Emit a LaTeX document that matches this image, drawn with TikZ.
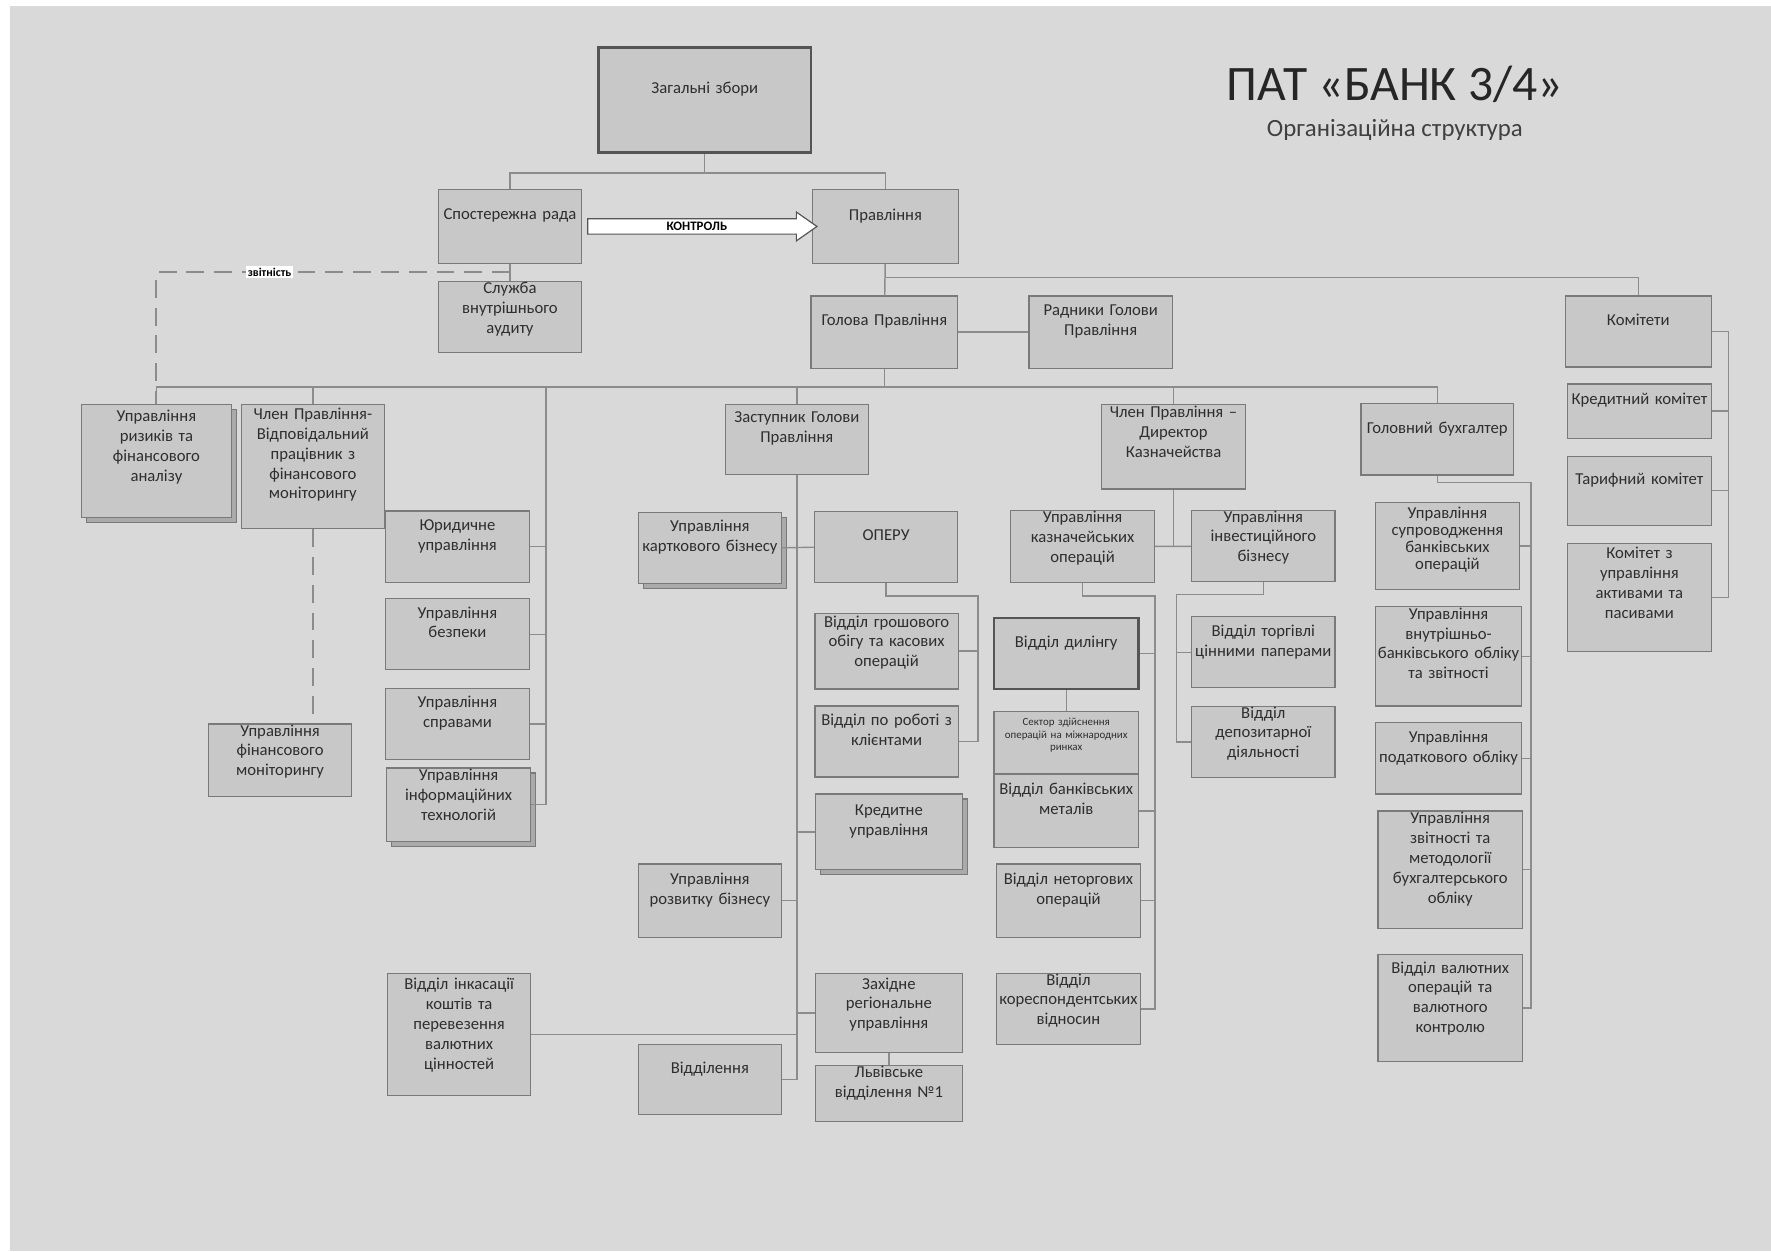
\documentclass[tikz,border=0pt]{standalone}
\usepackage{fontspec}
\setmainfont{Carlito}
\usepackage{tikz}
\usetikzlibrary{shapes, positioning, arrows.meta, calc, shadows}

\definecolor{pagegray}{HTML}{D9D9D9}
\definecolor{boxgray}{HTML}{C8C8C8}
\definecolor{edgegray}{HTML}{7A7A7A}
\definecolor{linegray}{HTML}{8C8C8C}
\definecolor{inkgray}{HTML}{2E2E2E}

\begin{document}
\begin{tikzpicture}[
    x=0.02cm, y=-0.02cm,
    unit/.style={rectangle, draw=edgegray, fill=boxgray, line width=0.6pt,
        minimum width=2.54cm, minimum height=1.26cm, text width=2.5cm,
        inner xsep=0.02cm, inner ysep=0pt, align=center, text=inkgray,
        font=\fontsize{8.4}{10}\selectfont,
        execute at end node={\rule[-#1]{0pt}{0pt}}},
    unit/.default=12pt,
    stack/.style={unit=#1, copy shadow={shadow xshift=2.5pt, shadow yshift=-2.5pt,
        fill=boxgray!85!black, draw=edgegray}},
    stack/.default=12pt,
    strong/.style={line width=1.3pt, draw=edgegray!70!black},
    link/.style={draw=linegray, line width=0.7pt},
    report/.style={link, dash pattern=on 9pt off 5pt, line width=1pt},
    ctrl/.style={single arrow, draw=edgegray!70!black, fill=white, line width=0.6pt,
        minimum height=4.06cm, minimum width=0.5cm, single arrow head extend=0.12cm,
        single arrow tip angle=70, inner sep=1.4pt, text=black,
        font=\fontsize{6.5}{7}\selectfont\bfseries},
    tag/.style={fill=white, inner sep=1pt, text=black, font=\fontsize{6}{7}\selectfont\bfseries}
]
\fill[white] (0,0) rectangle (1568,1108);
\fill[pagegray] (9,5) rectangle (1568,1108);
\useasboundingbox (0,0) rectangle (1568,1108);

\node[text=black!85, font=\fontsize{25}{30}\selectfont] (title) at (1235,75) {ПАТ «БАНК 3/4»};
\node[text=black!75, font=\fontsize{12.5}{14}\selectfont] (subtitle) at (1235,115) {Організаційна структура};

% 1. SHAREHOLDERS, BOARD
\node[unit, strong, minimum width=3.76cm, minimum height=1.86cm] (gz) at (624,88.5) {Загальні збори};
\node[unit, minimum height=1.3cm] (sr) at (451.5,200.5) {Спостережна рада};
\node[unit, minimum width=2.6cm, minimum height=1.3cm, right=4.06cm of sr] (pr) {Правління};
\node[unit=9pt, below=0.3cm of sr] (audit) {Служба\\внутрішнього\\аудиту};

\node[unit, minimum width=2.6cm, minimum height=1.28cm] (head) at (783,294) {Голова Правління};
\node[unit, minimum height=1.28cm, right=1.24cm of head] (adv) {Радники Голови\\Правління};
\node[unit, minimum width=2.58cm] (com) at (1450.5,293.5) {Комітети};
\node[unit, minimum height=0.96cm] (credc) at (1451.5,364) {Кредитний комітет};
\node[unit, minimum height=1.22cm] (tarc) at (1451.5,434.5) {Тарифний комітет};
\node[unit=15pt, minimum height=1.92cm] (alm) at (1451.5,529) {Комітет з\\управління\\активами та\\пасивами};

% 2. LEFT WING
\node[stack=15pt, minimum width=2.66cm, minimum height=2cm] (risk) at (138.5,408) {Управління\\ризиків та\\фінансового\\аналізу};
\node[unit=13pt, minimum height=2.2cm] (fmm) at (277,413) {Член Правління-\\Відповідальний\\працівник з\\фінансового\\моніторингу};
\node[unit] (legal) at (405,484) {Юридичне\\управління};
\node[unit] (sec) at (405,561.5) {Управління\\безпеки};
\node[unit] (admin) at (405,641) {Управління\\справами};
\node[stack=10pt, minimum width=2.56cm, minimum height=1.3cm] (it) at (406,712.5) {Управління\\інформаційних\\технологій};
\node[unit=10pt, minimum height=1.28cm] (fmon) at (248,673) {Управління\\фінансового\\моніторингу};
\node[unit=11pt, minimum height=2.16cm] (cit) at (406.5,916) {Відділ інкасації\\коштів та\\перевезення\\валютних\\цінностей};

% 3. DEPUTY CHAIRMAN
\node[unit, minimum height=1.24cm] (dep) at (705.5,389) {Заступник Голови\\Правління};
\node[stack] (card) at (628.5,485) {Управління\\\makebox[2.5cm]{карткового бізнесу}};
\node[unit] (operu) at (784.5,484.5) {ОПЕРУ};
\node[unit=10pt, minimum height=1.34cm] (cash) at (785,576.5) {Відділ грошового\\обігу та касових\\операцій};
\node[unit] (clients) at (785,656.5) {Відділ по роботі з\\клієнтами};
\node[stack, minimum width=2.6cm, minimum height=1.34cm] (credit) at (787,736.5) {Кредитне\\управління};
\node[unit, minimum height=1.3cm] (devb) at (628.5,797.5) {Управління\\розвитку бізнесу};
\node[unit=10pt, minimum width=2.6cm, minimum height=1.4cm] (west) at (787,897) {Західне\\регіональне\\управління};
\node[unit, minimum width=2.6cm, minimum height=1cm, below=0.2cm of west] (lviv) {Львівське\\відділення №1};
\node[unit, minimum height=1.24cm] (branch) at (628.5,956) {Відділення};

% 4. TREASURY
\node[unit=15pt, minimum width=2.56cm, minimum height=1.5cm] (treas) at (1039,395.5) {Член Правління –\\Директор\\Казначейства};
\node[unit=10pt, minimum height=1.28cm] (trops) at (958.5,484) {Управління\\казначейських\\операцій};
\node[unit=10pt] (invest) at (1118.5,483.5) {Управління\\інвестиційного\\бізнесу};
\node[unit, strong, minimum width=2.56cm] (deal) at (944,578.5) {Відділ дилінгу};
\node[unit=8pt, minimum width=2.56cm, minimum height=1.1cm, font=\fontsize{5.5}{6.4}\selectfont, below=0.36cm of deal] (intl) {Сектор здійснення\\операцій на міжнародних\\ринках};
\node[unit, minimum width=2.56cm, minimum height=1.28cm] (metal) at (944,718) {\makebox[2.5cm]{Відділ банківських}\\металів};
\node[unit, minimum width=2.56cm, minimum height=1.3cm] (nontr) at (946,797.5) {Відділ неторгових\\операцій};
\node[unit=10pt, minimum width=2.56cm] (corr) at (946,893.5) {Відділ\\\makebox[2.5cm]{кореспондентських}\\відносин};
\node[unit] (secur) at (1118.5,577.5) {Відділ торгівлі\\цінними паперами};
\node[unit=10pt] (depos) at (1118.5,657) {Відділ\\депозитарної\\діяльності};

% 5. CHIEF ACCOUNTANT
\node[unit, minimum width=2.7cm] (acc) at (1272.5,389) {Головний бухгалтер};
\node[unit=8pt, minimum height=1.54cm, font=\fontsize{8.4}{8.6}\selectfont] (supp) at (1281.5,483.5) {Управління\\супроводження\\банківських\\операцій};
\node[unit=13pt, minimum width=2.58cm, minimum height=1.76cm] (intacc) at (1282.5,581) {Управління\\внутрішньо-\\\makebox[2.5cm]{банківського обліку}\\та звітності};
\node[unit, minimum width=2.58cm] (tax) at (1282.5,671.5) {Управління\\\makebox[2.5cm]{податкового обліку}};
\node[unit=12pt, minimum width=2.56cm, minimum height=2.08cm] (rep) at (1284,770) {Управління\\звітності та\\методології\\бухгалтерського\\обліку};
\node[unit=11pt, minimum width=2.56cm, minimum height=1.9cm] (fx) at (1284,892.5) {Відділ валютних\\операцій та\\валютного\\контролю};

% connectors: top
\draw[link] (gz.south) -- ++(0,17) -| (sr.north);
\draw[link] (gz.south) -- ++(0,17) -| (pr.north);
\node[ctrl] (ctl) at ($(sr.east)!0.5!(pr.west)$) {КОНТРОЛЬ};
\draw[link] (sr) -- (audit);
\draw[report] ($(sr.south)!0.5!(audit.north)$) -| (risk.north) node[pos=0.34, tag] (rpt) {звітність};
\draw[link] (pr.south) -- ++(0,12) -| (com.north);
\draw[link] (pr) -- (head);
\draw[link] (head) -- (adv);

% chairman bus
\coordinate (itbus) at ($(it.east)+(13,0)$);
\foreach \nm in {risk, fmm, dep, treas, acc}
    \draw[link] (head.south) -- ++(0,16) -| (\nm.north);
\draw[link] (head.south) -- ++(0,16) -| (itbus) -- (it.east);
\foreach \nm in {legal, sec, admin}
    \draw[link] (\nm.east) -- (\nm.east -| itbus);
\draw[report] (fmm.south) -- (fmm.south |- fmon.north);

% deputy bus
\draw[link] (dep.south) -- (dep.south |- branch.east);
\draw[link] (card.east) -- (operu.west);
\foreach \nm in {credit, west}
    \draw[link] (\nm.west) -- (\nm.west -| dep.south);
\foreach \nm in {devb, branch, cit}
    \draw[link] (\nm.east) -- (\nm.east -| dep.south);
\coordinate (opbus) at ($(clients.east)+(17,0)$);
\draw[link] (operu.south) -- ++(0,11) -| (opbus) -- (clients.east);
\draw[link] (cash.east) -- (cash.east -| opbus);
\draw[link] (west) -- (lviv);

% treasury bus
\draw[link] (treas.south) -- (treas.south |- trops.east);
\draw[link] (trops) -- (invest);
\coordinate (trbus) at ($(corr.east)+(12,0)$);
\draw[link] (trops.south) -- ++(0,11) -| (trbus) -- (corr.east);
\foreach \nm in {deal, metal, nontr}
    \draw[link] (\nm.east) -- (\nm.east -| trbus);
\draw[link] (deal) -- (intl);
\coordinate (invbus) at ($(depos.west)+(-13,0)$);
\draw[link] (invest.south) -- ++(0,11) -| (invbus) -- (depos.west);
\draw[link] (secur.west) -- (secur.west -| invbus);

% accountant bus
\coordinate (accbus) at ($(fx.east)+(7,0)$);
\draw[link] (acc.south) -- ++(0,6) -| (accbus) -- (fx.east);
\foreach \nm in {supp, intacc, tax, rep}
    \draw[link] (\nm.east) -- (\nm.east -| accbus);

% committees bus
\coordinate (combus) at ($(alm.east)+(15,0)$);
\draw[link] (com.east) -| (combus) -- (alm.east);
\foreach \nm in {credc, tarc}
    \draw[link] (\nm.east) -- (\nm.east -| combus);
\end{tikzpicture}
\end{document}
